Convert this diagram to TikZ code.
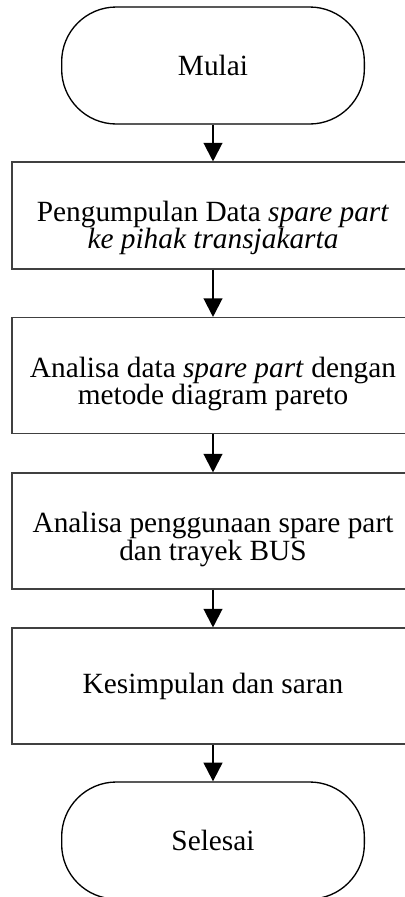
\documentclass[tikz,border=0pt]{standalone}
\usepackage{fontspec}
\setmainfont{Liberation Serif}
\usetikzlibrary{arrows.meta}

\tikzset{
    terminal/.style={draw, line width=1pt, rounded corners=41pt,
        minimum width=227pt, minimum height=87.75pt, inner sep=0pt},
    prosesbox/.style={draw=black!75, line width=0.8pt,
        minimum width=301.5pt, minimum height=87pt, inner sep=0pt,
        align=center},
    duabaris/.style={text height=50pt, text depth=6pt},
    alur/.style={-{Triangle[width=14pt,length=14pt]}, line width=1.6pt}
}

\begin{document}
\begin{tikzpicture}[x=0.75pt, y=-0.75pt,
    font=\fontsize{22pt}{20.6pt}\selectfont]
    \useasboundingbox (0,0) rectangle (404,897);

    % awal
    \node[terminal] (mulai) at (213,65.5) {Mulai};

    % langkah-langkah
    \node[prosesbox, duabaris, text height=56pt, minimum height=80.25pt]
        (data) at (213,215.5)
        {Pengumpulan Data \textit{spare part}\\ \textit{ke pihak transjakarta}};
    \node[prosesbox, duabaris] (pareto) at (213,375.5)
        {Analisa data \textit{spare part} dengan\\ metode diagram pareto};
    \node[prosesbox, duabaris] (trayek) at (213,531)
        {Analisa penggunaan spare part\\ dan trayek BUS};
    \node[prosesbox] (simpul) at (213,686) {Kesimpulan dan saran};

    % akhir
    \node[terminal] (selesai) at (213,840.5) {Selesai};

    % panah
    \draw[alur] (mulai) -- (data);
    \draw[alur] (data) -- (pareto);
    \draw[alur] (pareto) -- (trayek);
    \draw[alur] (trayek) -- (simpul);
    \draw[alur] (simpul) -- (selesai);
\end{tikzpicture}
\end{document}
